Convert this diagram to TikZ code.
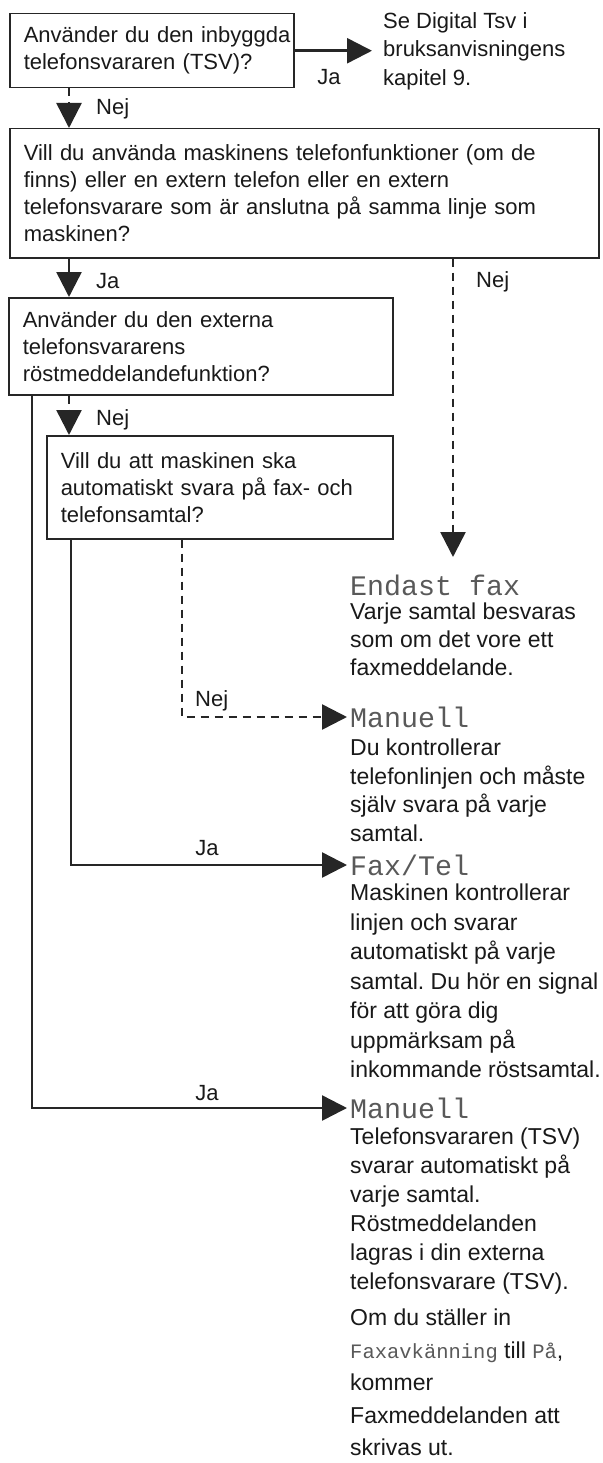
\documentclass[tikz,border=0pt]{standalone}
\usepackage{fontspec}
\setmainfont{Liberation Sans}
\newfontfamily\lcdfont{Liberation Mono}
\usetikzlibrary{arrows.meta}
\frenchspacing

\newcommand{\lcd}[1]{{\lcdfont\fontsize{20.5}{32.5}\selectfont\color{black!65}#1}}

\begin{document}
\begin{tikzpicture}[
    x=1pt, y=-1pt,
    every node/.style={text=black!90},
    question/.style={
        draw=black!85,
        line width=1.5pt,
        anchor=north west,
        align=left,
        inner xsep=14pt,
        inner ysep=0pt,
        font=\fontsize{22}{27}\selectfont
    },
    answer/.style={anchor=north west, align=left, inner sep=0pt,
        font=\fontsize{23}{29}\selectfont},
    mode/.style={anchor=west, inner xsep=3pt, inner ysep=0pt,
        font=\lcdfont\fontsize{28.3}{30}\selectfont, text=black!65},
    lbl/.style={anchor=base west, inner sep=0pt, font=\fontsize{22}{24}\selectfont},
    arrow/.style={line width=2.5pt, draw=black!85, -{Triangle[length=25pt,width=25pt]}},
    dasharrow/.style={arrow, dash pattern=on 8pt off 6pt}
]
\useasboundingbox (0,0) rectangle (602,1463);

\coordinate (cx) at (69,0);

% questions
\node[question, text width=256pt, minimum height=74pt] (q1) at (9,13)
    {\mbox{Använder du den inbyggda}\\telefonsvararen (TSV)?};
\node[question, text width=561pt, minimum height=129pt] (q2) at (9,128)
    {Vill du använda maskinens telefonfunktioner (om de\\
     finns) eller en extern telefon eller en extern\\
     telefonsvarare som är anslutna på samma linje som\\
     maskinen?};
\node[question, text width=356pt, minimum height=97pt] (q3) at (8,297)
    {Använder du den externa\\telefonsvararens\\röstmeddelandefunktion?};
\node[question, text width=318pt, minimum height=103pt] (q4) at (46,435)
    {Vill du att maskinen ska\\automatiskt svara på fax- och\\telefonsamtal?};

\node[anchor=north west, align=left, inner xsep=11pt, inner ysep=0pt,
      font=\fontsize{22}{28.5}\selectfont] (se) at (372,12)
    {Se Digital Tsv i\\bruksanvisningens\\kapitel 9.};

\draw[arrow] (q1.east) -- (q1.east -| se.west);
\node[lbl, anchor=base] (ja1) at (329,85) {Ja};

\draw[dasharrow] (q1.south -| cx) -- (q2.north -| cx);
\node[lbl] (nej1) at (96,115) {Nej};
\draw[arrow] (q2.south -| cx) -- (q3.north -| cx);
\node[lbl] (ja2) at (96,288) {Ja};
\draw[dasharrow] (q3.south -| cx) -- (q4.north -| cx);
\node[lbl] (nej3) at (96,425) {Nej};

% Endast fax
\coordinate (tipfax) at (453,557);
\draw[dasharrow] (q2.south -| tipfax) -- (tipfax);
\node[lbl] (nej2) at (476,287) {Nej};
\node[mode, inner xsep=0pt] (fax) at (350,585) {Endast fax};
\node[answer, font=\fontsize{23}{28}\selectfont] (faxtxt) at (350,603)
    {Varje samtal besvaras\\som om det vore ett\\faxmeddelande.};

% Manuell
\coordinate (d4) at (182,717);
\node[mode] (man1) at (347,717) {Manuell};
\draw[dasharrow] (q4.south -| d4) -- (d4) -- (man1.west);
\node[lbl] (nej4) at (195,706) {Nej};
\node[answer, font=\fontsize{23}{28.5}\selectfont] (man1txt) at (350,739)
    {Du kontrollerar\\telefonlinjen och måste\\själv svara på varje\\samtal.};

% Fax/Tel
\coordinate (s4) at (71,865);
\node[mode] (faxtel) at (347,865) {Fax/Tel};
\draw[arrow] (q4.south -| s4) -- (s4) -- (faxtel.west);
\node[lbl, anchor=base] (ja3) at (207,855) {Ja};
\node[answer, font=\fontsize{23}{29.5}\selectfont] (faxteltxt) at (350,884)
    {Maskinen kontrollerar\\linjen och svarar\\automatiskt på varje\\
     samtal. Du hör en signal\\för att göra dig\\uppmärksam på\\
     inkommande röstsamtal.};

% Manuell with TSV
\coordinate (s3) at (32,1108);
\node[mode] (man2) at (347,1108) {Manuell};
\draw[arrow] (q3.south -| s3) -- (s3) -- (man2.west);
\node[lbl, anchor=base] (ja4) at (207,1100) {Ja};
\node[answer] (man2txt) at (350,1128)
    {Telefonsvararen (TSV)\\svarar automatiskt på\\varje samtal.\\
     Röstmeddelanden\\lagras i din externa\\telefonsvarare (TSV).};
\node[answer, font=\fontsize{23}{32.5}\selectfont] (man2note) at (350,1309)
    {Om du ställer in\\\lcd{Faxavkänning} till \lcd{På},\\kommer\\
     Faxmeddelanden att\\skrivas ut.};

\end{tikzpicture}
\end{document}
